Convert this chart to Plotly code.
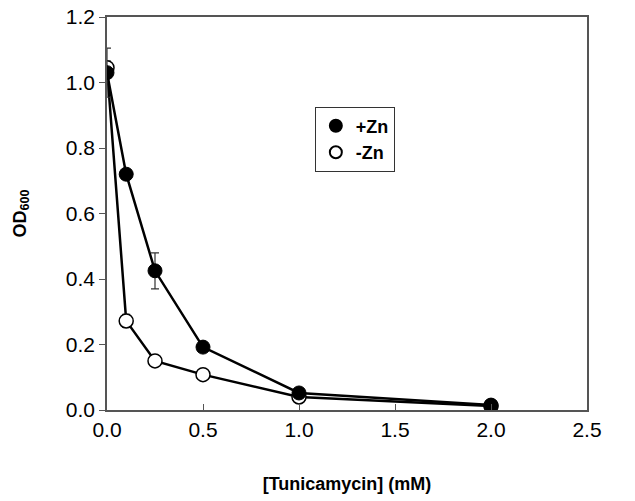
import plotly.graph_objects as go

conc = [0, 0.1, 0.25, 0.5, 1.0, 2.0]
plus_zn = [1.03, 0.72, 0.425, 0.192, 0.052, 0.015]
plus_zn_err = [0.075, 0.015, 0.055, 0.01, 0.008, 0.005]
minus_zn = [1.045, 0.272, 0.15, 0.108, 0.04, 0.012]
minus_zn_err = [0.02, 0.02, 0.015, 0.008, 0.006, 0.004]
x_ticks = [0.0, 0.5, 1.0, 1.5, 2.0, 2.5]
y_ticks = [0.0, 0.2, 0.4, 0.6, 0.8, 1.0, 1.2]

fig = go.Figure()

line_style = dict(color="black", width=2.5)

# -Zn (drawn first, underneath)
fig.add_trace(go.Scatter(x=conc, y=minus_zn, mode="lines", line=line_style,
                         showlegend=False, hoverinfo="skip"))
fig.add_trace(go.Scatter(
    x=conc, y=minus_zn, mode="markers", name="<b>-Zn</b>", legendrank=2,
    legendgroup="b",
    marker=dict(symbol="circle", size=14, color="white",
                line=dict(color="black", width=1.5)),
    error_y=dict(type="data", array=minus_zn_err, color="#333333",
                 thickness=1.2, width=4)))

# +Zn
fig.add_trace(go.Scatter(x=conc, y=plus_zn, mode="lines", line=line_style,
                         showlegend=False, hoverinfo="skip"))
fig.add_trace(go.Scatter(
    x=conc, y=plus_zn, mode="markers", name="<b>+Zn</b>", legendrank=1,
    legendgroup="a",
    marker=dict(symbol="circle", size=14, color="black",
                line=dict(color="black", width=1)),
    error_y=dict(type="data", array=plus_zn_err, color="#333333",
                 thickness=1.2, width=4)))

fig.update_layout(
    width=635, height=501,
    margin=dict(l=107, r=48, t=17, b=91),
    paper_bgcolor="white", plot_bgcolor="white",
    font=dict(family="Liberation Sans, Arial, sans-serif", size=21, color="black"),
    legend=dict(
        x=0.433, y=0.772, xanchor="left", yanchor="top",
        bordercolor="#333333", borderwidth=1, bgcolor="white",
        font=dict(size=18, family="Liberation Sans, Arial, sans-serif"),
        itemwidth=30, tracegroupgap=0, itemsizing="constant",
    ),
)

fig.update_xaxes(
    range=[0, 2.5], tickvals=x_ticks,
    ticktext=[f"{v:.1f}" for v in x_ticks],
    showgrid=False, zeroline=False, automargin=False,
    showline=True, linecolor="#555555", linewidth=1.5, mirror=True,
    ticks="inside", ticklen=6, tickcolor="#555555",
    title=dict(text="<b>[Tunicamycin] (mM)</b>", standoff=37,
               font=dict(size=18)),
)
fig.update_yaxes(
    range=[0, 1.2], tickvals=y_ticks,
    ticktext=[f"{v:.1f}" for v in y_ticks],
    showgrid=False, zeroline=False, automargin=False,
    ticklabeloverflow="allow",
    showline=True, linecolor="#555555", linewidth=1.5, mirror=True,
    ticks="outside", ticklen=6, tickcolor="#555555",
    title=dict(text="<b>OD<sub>600</sub></b>", standoff=35,
               font=dict(size=18)),
)

fig.write_html("out.html", config={"displayModeBar": False},
               post_script="document.body.style.margin='0';")
